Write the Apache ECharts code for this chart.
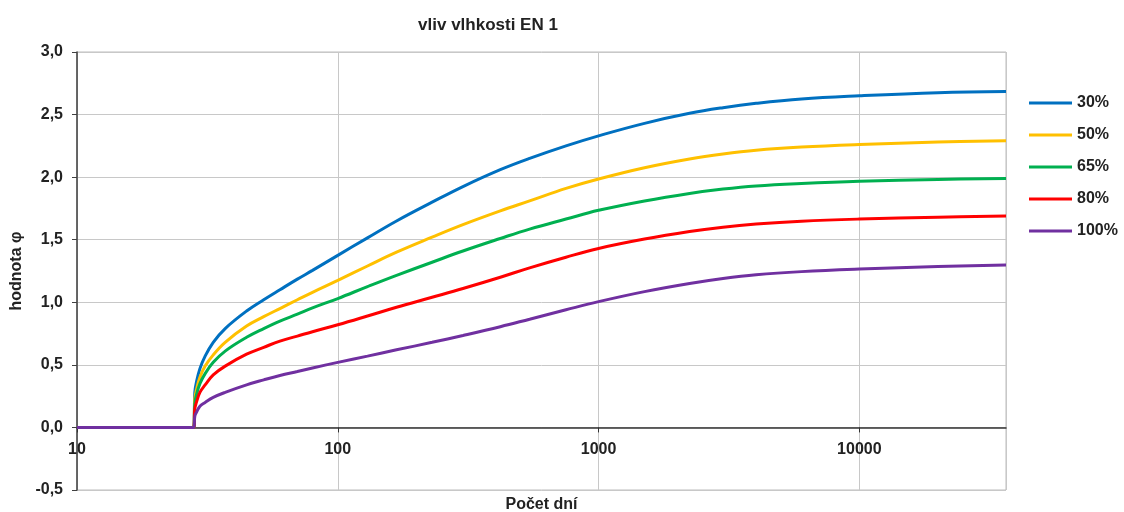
<!DOCTYPE html>
<html>
<head>
<meta charset="utf-8">
<script src="https://cdn.jsdelivr.net/npm/echarts@6/dist/echarts.min.js"></script>
<style>html,body{margin:0;padding:0;background:#fff}#c{width:1124px;height:512px}</style>
</head>
<body>
<div id="c"></div>
<script>
const days  = [10, 28, 28.3, 28.7, 29.6, 31, 33.3, 37, 44.7, 52, 60, 70, 80, 100, 130, 168, 230, 302, 420, 544, 750, 1000, 1500, 2233, 3000, 4018, 6000, 10000, 20000, 36500];
const rh30  = [0, 0, 0.28, 0.36, 0.47, 0.57, 0.68, 0.79, 0.93, 1.02, 1.10, 1.185, 1.255, 1.375, 1.515, 1.65, 1.80, 1.925, 2.06, 2.15, 2.25, 2.33, 2.43, 2.51, 2.555, 2.59, 2.625, 2.65, 2.675, 2.685];
const rh50  = [0, 0, 0.23, 0.30, 0.40, 0.49, 0.58, 0.68, 0.81, 0.885, 0.95, 1.02, 1.08, 1.175, 1.29, 1.40, 1.52, 1.62, 1.73, 1.81, 1.91, 1.985, 2.075, 2.145, 2.185, 2.215, 2.24, 2.26, 2.28, 2.29];
const rh65  = [0, 0, 0.19, 0.26, 0.35, 0.43, 0.52, 0.61, 0.72, 0.79, 0.85, 0.905, 0.955, 1.03, 1.125, 1.215, 1.32, 1.41, 1.51, 1.585, 1.665, 1.735, 1.81, 1.87, 1.905, 1.93, 1.95, 1.968, 1.982, 1.99];
const rh80  = [0, 0, 0.15, 0.20, 0.28, 0.34, 0.42, 0.49, 0.585, 0.64, 0.69, 0.73, 0.765, 0.82, 0.89, 0.96, 1.04, 1.11, 1.20, 1.275, 1.36, 1.43, 1.505, 1.565, 1.60, 1.625, 1.648, 1.665, 1.68, 1.69];
const rh100 = [0, 0, 0.09, 0.12, 0.17, 0.20, 0.24, 0.28, 0.34, 0.38, 0.415, 0.447, 0.475, 0.52, 0.57, 0.62, 0.68, 0.735, 0.805, 0.865, 0.94, 1.005, 1.085, 1.15, 1.19, 1.22, 1.245, 1.265, 1.285, 1.298];
const seriesNames  = ['30%', '50%', '65%', '80%', '100%'];
const seriesValues = [rh30, rh50, rh65, rh80, rh100];
const colors = ['#0070C0', '#FFC000', '#00B050', '#FF0000', '#7030A0'];

const FONT = 'Liberation Sans, Arial, sans-serif';
const txt = { fontFamily: FONT, fontWeight: 'bold', fontSize: 16, color: '#222' };

const chart = echarts.init(document.getElementById('c'), null, { renderer: 'canvas' });
chart.setOption({
  animation: false,
  backgroundColor: '#fff',
  title: {
    text: 'vliv vlhkosti EN 1',
    left: 483, top: 12, textAlign: 'center',
    textStyle: Object.assign({}, txt, { fontSize: 17 })
  },
  legend: {
    orient: 'vertical',
    left: 1024, top: 90,
    icon: 'rect', itemWidth: 43, itemHeight: 3, itemGap: 16,
    textStyle: txt,
    data: seriesNames
  },
  grid: {
    left: 77, right: 118, top: 52, bottom: 22,
    outerBoundsMode: 'none', containLabel: false,
    show: true, borderColor: '#bdbdbd', borderWidth: 1
  },
  xAxis: {
    type: 'log', logBase: 10, min: 10, max: 36500,
    name: 'Počet dní', nameLocation: 'middle', nameGap: 7,
    nameTextStyle: txt,
    axisLine: { onZero: true, lineStyle: { color: '#333', width: 1.5 } },
    axisTick: { show: true, length: 5, lineStyle: { color: '#333' } },
    axisLabel: { ...txt, margin: -48, showMaxLabel: false, formatter: v => String(Math.round(v)) },
    splitLine: { show: true, lineStyle: { color: '#c8c8c8', width: 1 } },
    minorTick: { show: false }
  },
  yAxis: {
    type: 'value', min: -0.5, max: 3, interval: 0.5,
    name: 'hodnota φ', nameLocation: 'middle', nameGap: 52, nameRotate: 90,
    nameTextStyle: txt,
    axisLine: { show: true, lineStyle: { color: '#404040', width: 1.5 } },
    axisTick: { show: true, length: 5, lineStyle: { color: '#404040' } },
    axisLabel: { ...txt, margin: 14, formatter: v => v.toFixed(1).replace('.', ',') },
    splitLine: { show: true, lineStyle: { color: '#c8c8c8', width: 1 } }
  },
  series: seriesNames.map((n, i) => ({
    name: n, type: 'line', showSymbol: false, symbol: 'none',
    smooth: 0.4,
    lineStyle: { color: colors[i], width: 3 },
    itemStyle: { color: colors[i] },
    data: days.map((d, k) => [d, seriesValues[i][k]])
  }))
});
</script>
</body>
</html>
